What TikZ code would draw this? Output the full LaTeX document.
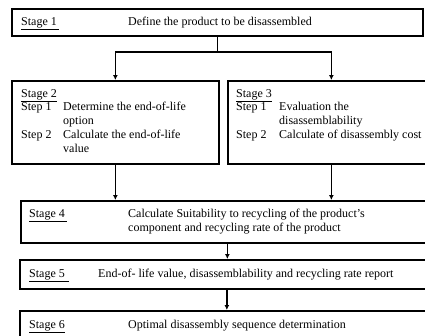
\documentclass[tikz,border=0pt]{standalone}
\usepackage{fontspec}
\setmainfont{Liberation Serif}
\usetikzlibrary{arrows.meta}
\begin{document}
\begin{tikzpicture}[x=1pt,y=-1pt,
  box/.style={draw,line width=1.7pt,inner sep=0pt,anchor=north west},
  txt/.style={anchor=base west,inner sep=0pt,font=\fontsize{12}{14}\selectfont},
  arr/.style={line width=1.3pt,-{Latex[length=5pt,width=5pt]}},
  ln/.style={line width=1.3pt}]
\useasboundingbox (0,0) rectangle (425,335);
\clip (0,0) rectangle (425,335);
% boxes
\node[box,minimum width=411pt,minimum height=27pt] (s1) at (11,8) {};
\node[box,minimum width=207pt,minimum height=83pt] (s2) at (11,80) {};
\node[box,minimum width=207pt,minimum height=83pt] (s3) at (227,80) {};
\node[box,minimum width=413pt,minimum height=42pt] (s4) at (20,200) {};
\node[box,minimum width=414pt,minimum height=29pt] (s5) at (19,259) {};
\node[box,minimum width=414pt,minimum height=30pt] (s6) at (19,310) {};
% texts
\node[txt] (t1a) at (21,25) {\underline{Stage 1\,}};
\node[txt] (t1b) at (128,25) {Define the product to be disassembled};
\node[txt] (t2a) at (21,97) {\underline{Stage 2}};
\node[txt] (t2b) at (21,110.5) {Step 1};
\node[txt] (t2c) at (63,110.5) {Determine the end-of-life};
\node[txt] (t2d) at (63,124.5) {option};
\node[txt] (t2e) at (21,138.5) {Step 2};
\node[txt] (t2f) at (63,138.5) {Calculate the end-of-life};
\node[txt] (t2g) at (63,152.5) {value};
\node[txt] (t3a) at (236,97) {\underline{Stage 3}};
\node[txt] (t3b) at (236,110.5) {Step 1};
\node[txt] (t3c) at (279,110.5) {Evaluation the};
\node[txt] (t3d) at (279,124.5) {disassemblability};
\node[txt] (t3e) at (236,138.5) {Step 2};
\node[txt] (t3f) at (279,138.5) {Calculate of disassembly cost};
\node[txt] (t4a) at (29,217) {\underline{Stage 4\,}};
\node[txt] (t4b) at (128,217) {Calculate Suitability to recycling of the product's};
\node[txt] (t4c) at (128,231) {component and recycling rate of the product};
\node[txt] (t5a) at (29,277.5) {\underline{Stage 5\,\,}};
\node[txt] (t5b) at (98,277.5) {End-of- life value, disassemblability and recycling rate report};
\node[txt] (t6a) at (29,328) {\underline{Stage 6}};
\node[txt] (t6b) at (128,328) {Optimal disassembly sequence determination};
% connectors
\coordinate (j) at (s1.south |- 0,52);
\draw[ln] (s1.south) -- (j);
\draw[arr] (j) -| (s2.north);
\draw[arr] (j) -| (s3.north);
\draw[arr] (s2.south) -- (s2.south |- s4.north);
\draw[arr] (s3.south) -- (s3.south |- s4.north);
\draw[arr] (s4.south) -- (s4.south |- s5.north);
\draw[arr] (s5.south) -- (s5.south |- s6.north);
\end{tikzpicture}
\end{document}
